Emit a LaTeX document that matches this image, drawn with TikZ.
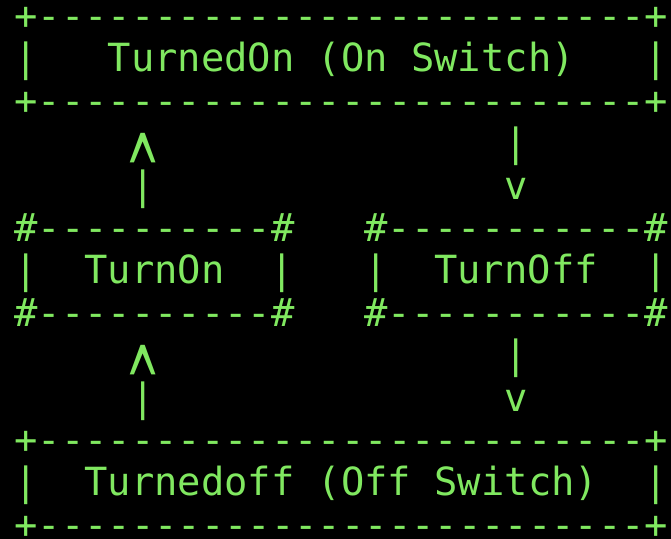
\documentclass[tikz,border=0pt]{standalone}
\usepackage{fontspec}
\setmonofont{DejaVu Sans Mono}
\usepackage{tikz}
\definecolor{termgreen}{RGB}{128,232,96}
\tikzset{
  ascii/.style={inner sep=0pt, outer sep=0pt, anchor=base west, text=termgreen, font=\ttfamily\fontsize{19.4}{21}\selectfont},
  screen/.style={fill=black}
}
\newcommand{\framerow}{+--------------------------+}
\newcommand{\halfrowL}{\#----------\#}
\newcommand{\halfrowR}{\#-----------\#}
\newcommand{\caret}{\kern-0.07em\raisebox{-1.45em}[0.6em][0pt]{\scalebox{1.25}[2.8]{\textasciicircum}}}

\begin{document}
\begin{tikzpicture}[x=11.667pt, y=-21.2pt]
  \fill[screen] (-7.2pt,14.8pt) rectangle (328.4pt,-254.7pt);
  \useasboundingbox (-7.2pt,14.8pt) rectangle (328.4pt,-254.7pt);
  % frame lines of the two big boxes
  \foreach \r/\nm in {0/onTop,2/onBottom,10/offTop,12/offBottom}
    \node[ascii] (\nm) at (0,\r) {\framerow};
  \node[ascii] (onLeft) at (0,1) {|};
  \node[ascii] (onLabel) at (4,1) {TurnedOn (On Switch)};
  \node[ascii] (onRight) at (27,1) {|};
  \node[ascii] (offLeft) at (0,11) {|};
  \node[ascii] (offLabel) at (3,11) {Turnedoff (Off Switch)};
  \node[ascii] (offRight) at (27,11) {|};
  % the two small boxes
  \foreach \r/\nm in {5/Top,7/Bottom} {
    \node[ascii] (turnon\nm) at (0,\r) {\halfrowL};
    \node[ascii] (turnoff\nm) at (15,\r) {\halfrowR};
  }
  \node[ascii] (turnonLeft) at (0,6) {|};
  \node[ascii] (turnonLabel) at (3,6) {TurnOn};
  \node[ascii] (turnonRight) at (11,6) {|};
  \node[ascii] (turnoffLeft) at (15,6) {|};
  \node[ascii] (turnoffLabel) at (18,6) {TurnOff};
  \node[ascii] (turnoffRight) at (27,6) {|};
  % arrows, up on the left, down on the right
  \foreach \r/\nm in {3/upper,8/lower} {
    \node[ascii] (\nm-uphead) at (5,\r) {\caret};
    \node[ascii] (\nm-upstem) at (5,\r+1) {|};
    \node[ascii] (\nm-downstem) at (21,\r) {|};
    \node[ascii] (\nm-downhead) at (21,\r+1) {v};
  }
\end{tikzpicture}
\end{document}
